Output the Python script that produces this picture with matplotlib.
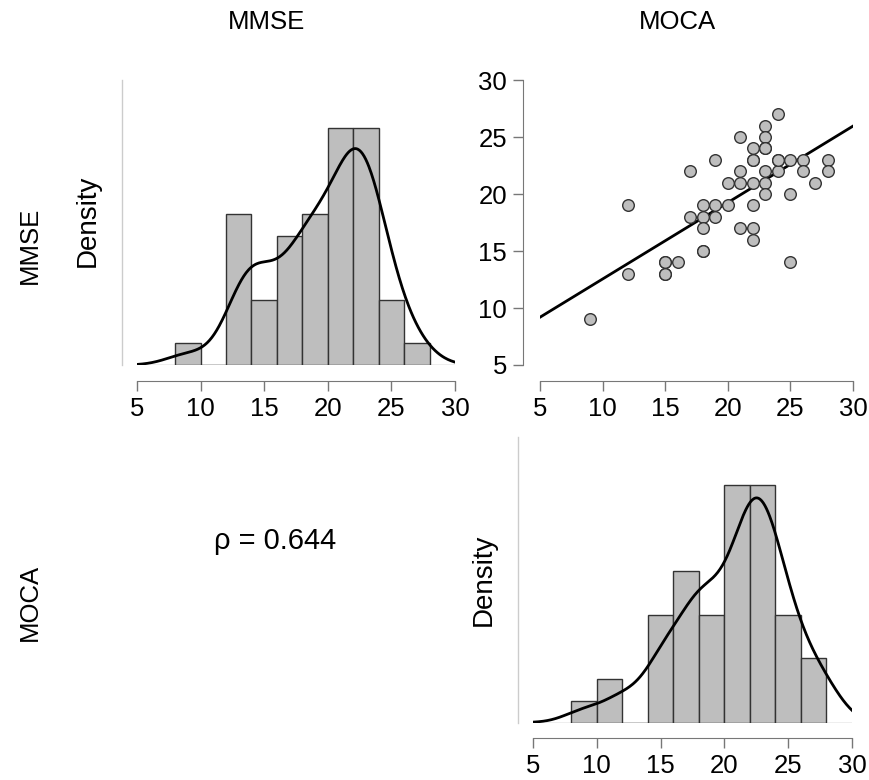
import numpy as np
import matplotlib
matplotlib.use("Agg")
import matplotlib.pyplot as plt

plt.rcParams['font.family'] = ['Liberation Sans', 'DejaVu Sans']

# ---- data (MOCA on x, MMSE on y) ----
moca = [9, 12, 12, 15, 15, 16, 17, 17, 18, 18, 18, 18, 19, 19, 19, 20, 20,
        21, 21, 21, 21, 22, 22, 22, 22, 22, 22, 23, 23, 23, 23, 23, 23,
        24, 24, 24, 25, 25, 25, 26, 26, 27, 28, 28,
        15, 15, 18, 22, 23, 24]
mmse = [9, 19, 13, 14, 13, 14, 22, 18, 19, 18, 17, 15, 23, 19, 18, 21, 19,
        25, 22, 21, 17, 24, 23, 21, 19, 17, 16, 26, 25, 24, 22, 21, 20,
        27, 23, 22, 23, 20, 14, 23, 22, 21, 23, 22,
        14, 13, 15, 23, 24, 23]
col_labels = ["MMSE", "MOCA"]
row_labels = ["MMSE", "MOCA"]
rho_text = "\u03c1 = 0.644"
ticks = [5, 10, 15, 20, 25, 30]
bin_edges = np.arange(8, 29, 2)

moca = np.array(moca, float)
mmse = np.array(mmse, float)

BAR_FC = '#bebebe'
BAR_EC = '#333333'
FS_TICK = 18.5


def bw_nrd0(x):
    sd = np.std(x, ddof=1)
    iqr = np.subtract(*np.percentile(x, [75, 25]))
    lo = min(sd, iqr / 1.34)
    return 0.9 * lo * len(x) ** (-0.2)


def kde(x, grid):
    bw = bw_nrd0(x)
    z = (grid[:, None] - x[None, :]) / bw
    return np.exp(-0.5 * z ** 2).sum(axis=1) / (len(x) * bw * np.sqrt(2 * np.pi))


def hist_panel(ax, data):
    # right-closed bins like R's hist()
    idx = np.searchsorted(bin_edges, data, side='left') - 1
    idx[data == bin_edges[0]] = 0
    counts = np.bincount(idx, minlength=len(bin_edges) - 1)[:len(bin_edges) - 1]
    width = np.diff(bin_edges)
    dens = counts / (len(data) * width)
    ax.bar(bin_edges[:-1], dens, width=width, align='edge', color=BAR_FC,
           edgecolor=BAR_EC, linewidth=1.0, zorder=2)
    grid = np.linspace(5, 30, 400)
    ax.plot(grid, kde(data, grid), color='black', lw=2.0, zorder=3)
    ax.plot([6, 30], [0, 0], color='#aaaaaa', lw=1.0, zorder=1)
    ax.set_xlim(5, 30)
    ax.set_ylim(0, 0.1323)
    for s in ['top', 'right']:
        ax.spines[s].set_visible(False)
    ax.spines['left'].set_color('#cccccc')
    ax.spines['left'].set_linewidth(1.0)
    ax.spines['left'].set_position(('outward', 10.8))
    ax.spines['bottom'].set_color('#777777')
    ax.spines['bottom'].set_position(('outward', 11.5))
    ax.spines['bottom'].set_bounds(5, 30)
    ax.set_yticks([])
    ax.set_xticks(ticks)
    ax.tick_params(axis='x', direction='out', length=7.5, width=1.0,
                   color='#777777', labelsize=FS_TICK, pad=4)


fig = plt.figure(figsize=(8.69, 7.8), dpi=100)
W, H = 869.0, 780.0
ax1 = fig.add_axes([137 / W, 1 - 365 / H, 318 / W, 285 / H])
ax2 = fig.add_axes([540 / W, 1 - 365 / H, 313 / W, 285 / H])
ax3 = fig.add_axes([533 / W, 1 - 722.5 / H, 319 / W, 285.5 / H])

hist_panel(ax1, mmse)
hist_panel(ax3, moca)

# scatter
ax2.scatter(moca, mmse, s=70, facecolor=BAR_FC, edgecolor='#333333',
            linewidth=1.0, zorder=3)
slope, intercept = np.polyfit(moca, mmse, 1)
xx = np.array([5, 30])
ax2.plot(xx, intercept + slope * xx, color='black', lw=2.0, zorder=2)
ax2.set_xlim(5, 30)
ax2.set_ylim(5, 30)
for s in ['top', 'right']:
    ax2.spines[s].set_visible(False)
for s in ['left', 'bottom']:
    ax2.spines[s].set_color('#777777')
    ax2.spines[s].set_bounds(5, 30)
ax2.spines['left'].set_position(('outward', 12.2))
ax2.spines['bottom'].set_position(('outward', 11.5))
ax2.set_xticks(ticks)
ax2.set_yticks(ticks)
ax2.tick_params(direction='out', length=7.5, width=1.0, color='#777777',
                labelsize=FS_TICK, pad=4)

# labels
fig.text(267 / W, 1 - 22 / H, col_labels[0], ha='center', va='center', fontsize=18.5)
fig.text(677 / W, 1 - 22 / H, col_labels[1], ha='center', va='center', fontsize=18.5)
fig.text(30 / W, 1 - 245 / H, row_labels[0], ha='center', va='center', fontsize=18.5,
         rotation=90)
fig.text(30 / W, 1 - 602 / H, row_labels[1], ha='center', va='center', fontsize=18.5,
         rotation=90)
fig.text(88 / W, 1 - 221 / H, "Density", ha='center', va='center', fontsize=20,
         rotation=90)
fig.text(484 / W, 1 - 580 / H, "Density", ha='center', va='center', fontsize=20,
         rotation=90)
fig.text(275 / W, 1 - 541 / H, rho_text, ha='center', va='center', fontsize=21)

fig.savefig("out.png", dpi=100)
